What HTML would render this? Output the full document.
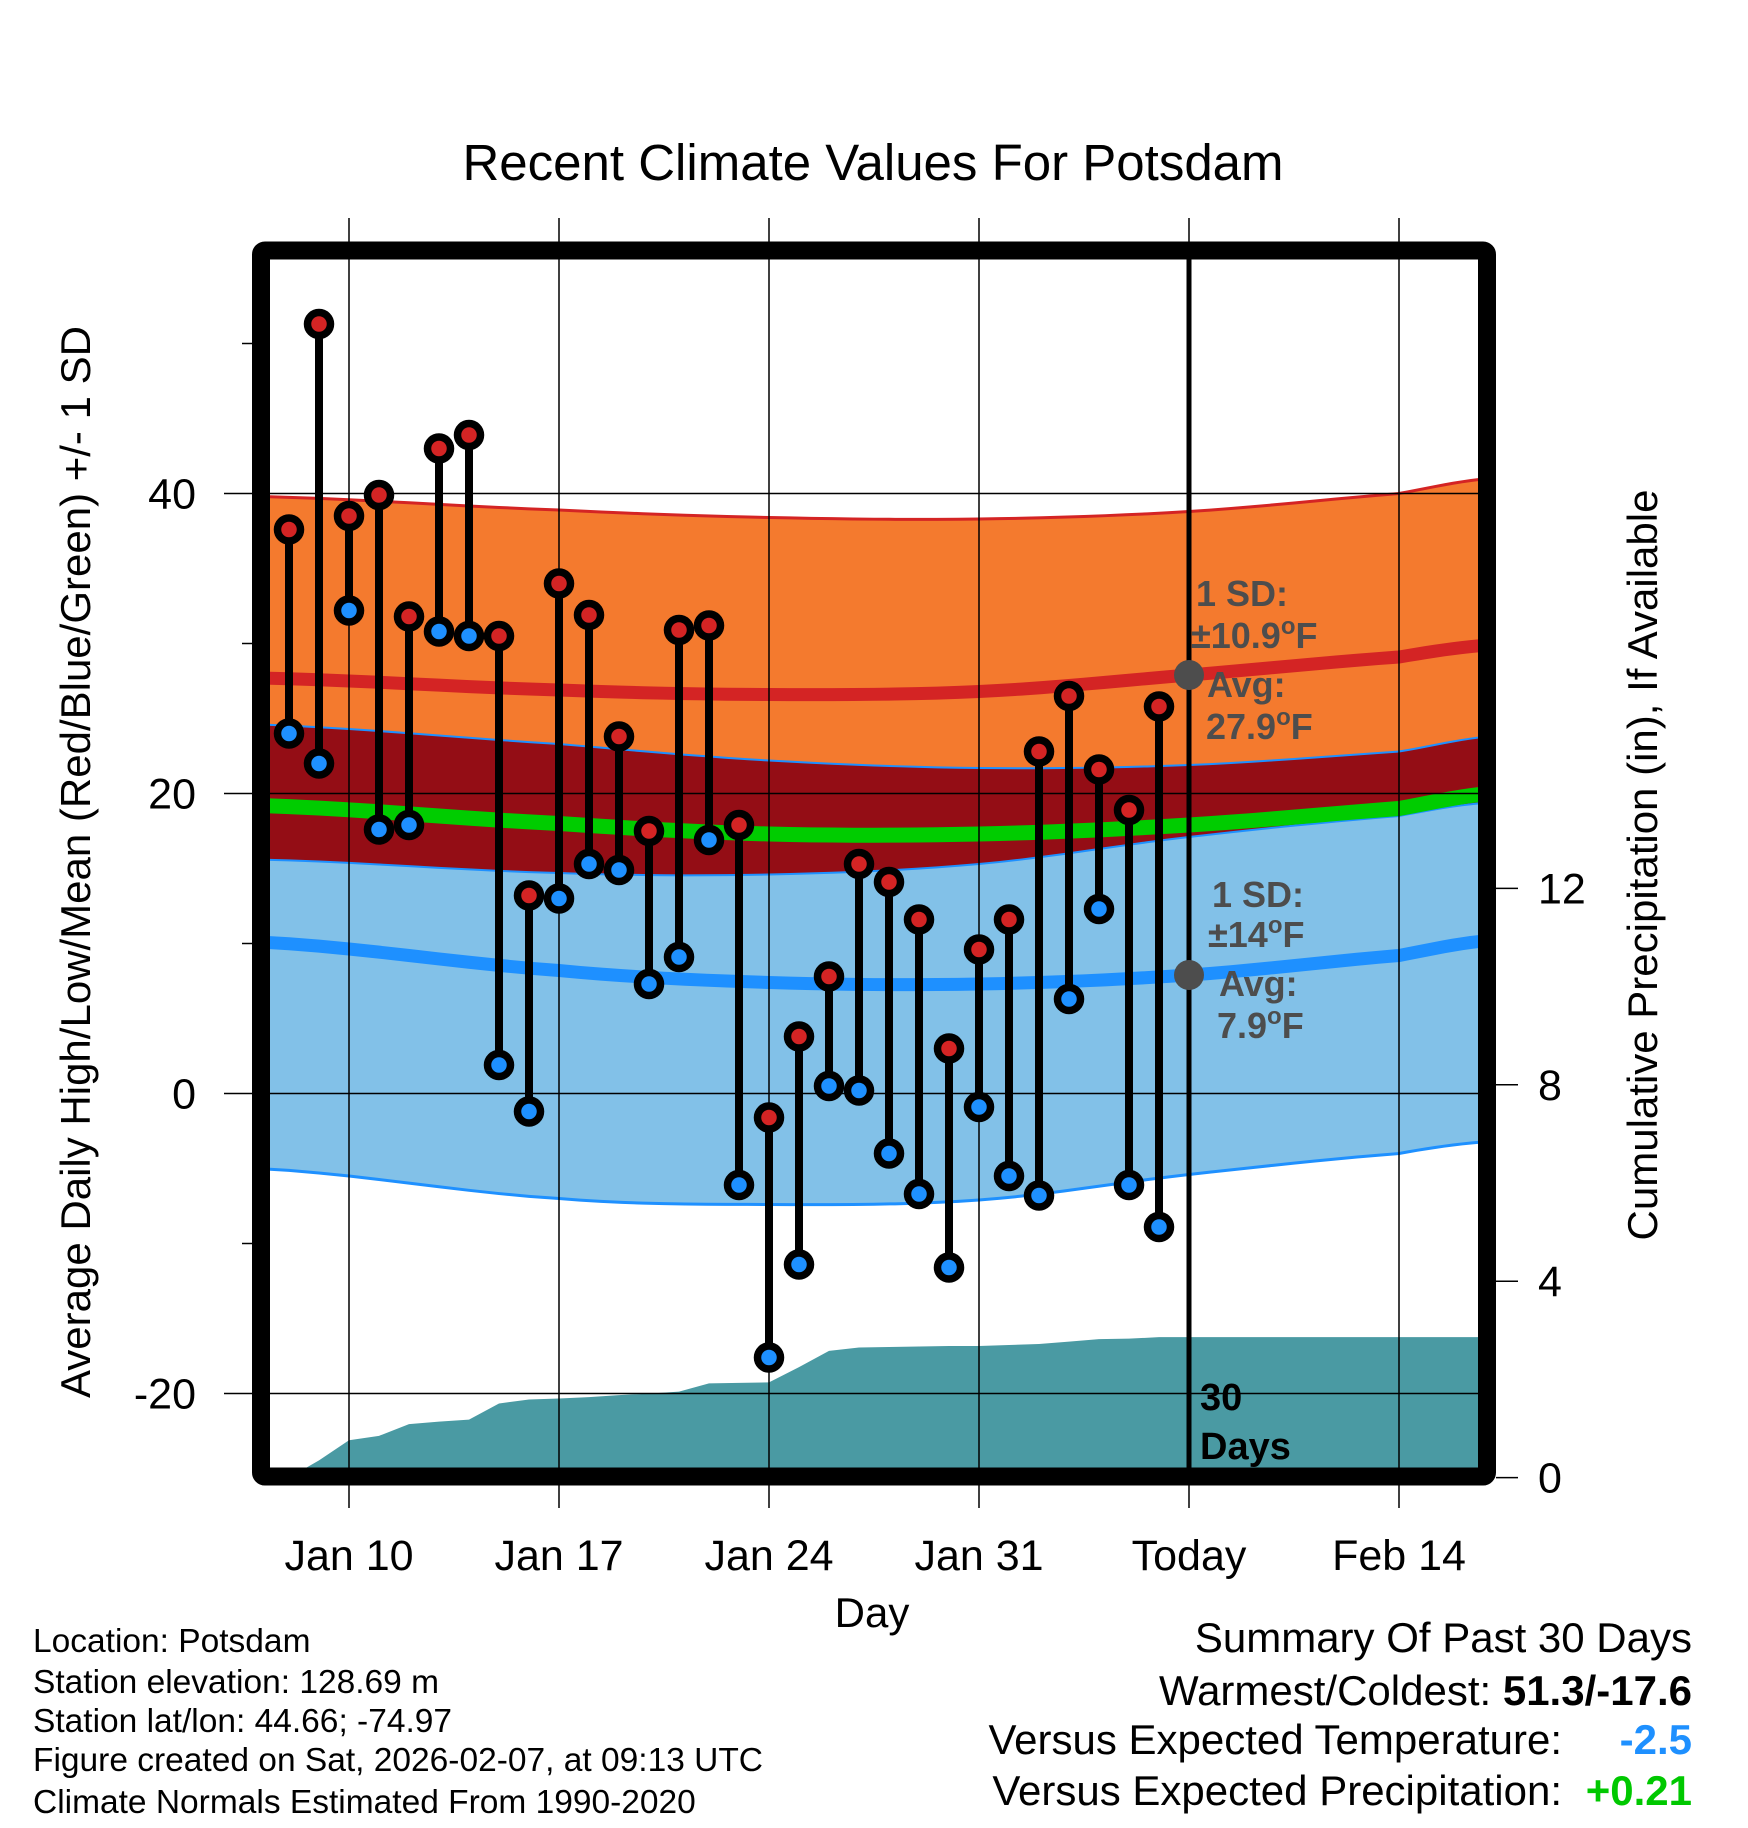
<!DOCTYPE html>
<html><head><meta charset="utf-8"><style>
html,body{margin:0;padding:0;background:#fff;}
svg{display:block;font-family:"Liberation Sans",sans-serif;}
</style></head><body>
<svg id="chart" width="1748" height="1828" viewBox="0 0 1748 1828" xmlns="http://www.w3.org/2000/svg">
<defs><clipPath id="plotclip"><rect x="270" y="259" width="1208" height="1209"/></clipPath></defs>
<text x="873" y="180" font-size="51" text-anchor="middle">Recent Climate Values For Potsdam</text>
<g id="plot" clip-path="url(#plotclip)"></g>
<g id="grid"></g>
<g id="marks" clip-path="url(#plotclip)"></g>
<g id="axes"></g>
<text x="872" y="1627" font-size="42" text-anchor="middle">Day</text>
<text transform="translate(90,862) rotate(-90)" font-size="42" text-anchor="middle">Average Daily High/Low/Mean (Red/Blue/Green) +/- 1 SD</text>
<text transform="translate(1657,865) rotate(-90)" font-size="42" text-anchor="middle">Cumulative Precipitation (in), If Available</text>
<g font-size="33.5">
<text x="33" y="1652">Location: Potsdam</text>
<text x="33" y="1693">Station elevation: 128.69 m</text>
<text x="33" y="1732">Station lat/lon: 44.66; -74.97</text>
<text x="33" y="1771">Figure created on Sat, 2026-02-07, at 09:13 UTC</text>
<text x="33" y="1813">Climate Normals Estimated From 1990-2020</text>
</g>
<g font-size="42" text-anchor="end">
<text x="1692" y="1652">Summary Of Past 30 Days</text>
<text x="1692" y="1705">Warmest/Coldest: <tspan font-weight="bold">51.3/-17.6</tspan></text>
<text x="1562" y="1754">Versus Expected Temperature:</text>
<text x="1692" y="1754" font-weight="bold" fill="#1e90ff">-2.5</text>
<text x="1562" y="1805">Versus Expected Precipitation:</text>
<text x="1692" y="1805" font-weight="bold" fill="#00c800">+0.21</text>
</g>
</svg>
<script>
// Days as offsets from Jan 10
const obsDays = [-2,-1,0,1,2,3,4,5,6,7,8,9,10,11,12,13,14,15,16,17,18,19,20,21,22,23,24,25,26,27];
const highs = [37.6,51.3,38.5,39.9,31.8,43.0,43.9,30.5,13.2,34.0,31.9,23.8,17.5,30.9,31.2,17.9,-1.6,3.8,7.8,15.3,14.1,11.6,3.0,9.6,11.6,22.8,26.5,21.6,18.9,25.8];
const lows = [24.0,22.0,32.2,17.6,17.9,30.8,30.5,1.9,-1.2,13.0,15.3,14.9,7.3,9.1,16.9,-6.1,-17.6,-11.4,0.5,0.2,-4.0,-6.7,-11.6,-0.9,-5.5,-6.8,6.3,12.3,-6.1,-8.9];
const precip = [0.0,0.35,0.76,0.85,1.09,1.14,1.18,1.51,1.59,1.61,1.64,1.68,1.71,1.75,1.92,1.93,1.94,2.25,2.58,2.65,2.66,2.67,2.68,2.68,2.70,2.72,2.77,2.82,2.83,2.86];
const normDays = [-3,7,14,21,28,35,38];
const hiUp = [39.8,38.9,38.4,38.3,38.8,40.0,41.0];
const hiAvg = [27.7,26.9,26.6,26.8,27.9,29.1,29.9];
const hiDn = [24.6,23.3,22.2,21.7,21.9,22.8,23.8];
const meanT = [19.2,18.0,17.3,17.3,17.9,19.0,20.0];
const loUp = [15.6,14.7,14.6,15.3,17.1,18.5,19.4];
const loAvg = [10.1,8.2,7.4,7.3,7.9,9.2,10.2];
const loDn = [-5.0,-7.0,-7.4,-7.1,-5.4,-4.0,-3.2];
const xTickDays = [0,7,14,21,28,35];
const xTickLabels = ["Jan 10","Jan 17","Jan 24","Jan 31","Today","Feb 14"];
const yTicks = [-20,0,20,40];
const yMinor = [-10,10,30,50];
const y2Ticks = [0,4,8,12];
const todayDay = 28;
const todayHiAvg = 27.9, todayLoAvg = 7.9;

const NS="http://www.w3.org/2000/svg";
const X = d => 349 + 30*d;
const Y = t => 1093.5 - 15*t;
const YP = p => 1477.6 - 49.1*p;
function mk(parent, tag, attrs){const e=document.createElementNS(NS,tag);for(const k in attrs)e.setAttribute(k,attrs[k]);parent.appendChild(e);return e;}
const plot=document.getElementById('plot'), grid=document.getElementById('grid'), marks=document.getElementById('marks'), axes=document.getElementById('axes');
// smooth interpolation (monotone-ish cosine) between normal points for drawing
function samp(arr){
  const out=[];
  for(let i=0;i<normDays.length-1;i++){
    const steps=10;
    for(let s=0;s<steps;s++){
      const f=s/steps;
      const p0=arr[Math.max(i-1,0)],p1=arr[i],p2=arr[i+1],p3=arr[Math.min(i+2,arr.length-1)];
      const v=0.5*((2*p1)+(-p0+p2)*f+(2*p0-5*p1+4*p2-p3)*f*f+(-p0+3*p1-3*p2+p3)*f*f*f);
      const d=normDays[i]+(normDays[i+1]-normDays[i])*f;
      out.push([X(d),Y(v)]);
    }
  }
  out.push([X(normDays[normDays.length-1]),Y(arr[arr.length-1])]);
  return out;
}
function pts(arr){return samp(arr).map(p=>p[0]+','+p[1]).join(' ');}
function band(up,dn,fill,name){
  const a=samp(up), b=samp(dn).reverse();
  const e=mk(plot,'polygon',{points:a.concat(b).map(p=>p[0]+','+p[1]).join(' '),fill:fill});
  
  
}
band(hiUp,hiDn,'#f47a2e','high-sd-band');
band(hiDn,loUp,'#940d15','overlap-band');
band(loUp,loDn,'#82c1e8','low-sd-band');
function line(arr,color,w,name){const e=mk(plot,'polyline',{points:pts(arr),fill:'none',stroke:color,'stroke-width':w});
  
  }
line(hiUp,'#d42424',3,'high-upper-line');
line(loUp,'#1e90ff',2,'low-upper-line');
line(hiDn,'#1e90ff',2,'high-lower-line');
line(loDn,'#1e90ff',3,'low-lower-line');
line(meanT,'#00cc00',15,'mean-line');
line(hiAvg,'#d42424',13,'high-avg-line');
line(loAvg,'#1e90ff',13,'low-avg-line');
// precipitation area
{
  const p=[X(obsDays[0])+','+1480];
  obsDays.forEach((d,i)=>p.push(X(d)+','+YP(precip[i])));
  p.push('1480,'+YP(precip[precip.length-1]));
  p.push('1480,1480');
  const e=mk(plot,'polygon',{points:p.join(' '),fill:'#4a9aa3'});
  
  
}
// grid
xTickDays.forEach((d,i)=>{
  const e=mk(grid,'line',{x1:X(d),x2:X(d),y1:218,y2:1508,stroke:'#000','stroke-width':1.5});
  
  
  const t=mk(axes,'text',{x:X(d),y:1570,'font-size':43,'text-anchor':'middle'});
  t.textContent=xTickLabels[i];
  
  
});
yTicks.forEach(v=>{
  const e=mk(grid,'line',{x1:224,x2:1478,y1:Y(v),y2:Y(v),stroke:'#000','stroke-width':1.5});
  
  
  const t=mk(axes,'text',{x:196,y:Y(v)+15,'font-size':43,'text-anchor':'end'});
  t.textContent=String(v);
  
  
});
yMinor.forEach(v=>{
  const e=mk(axes,'line',{x1:242,x2:252,y1:Y(v),y2:Y(v),stroke:'#000','stroke-width':1.5});
  
  
});
y2Ticks.forEach(v=>{
  const e=mk(axes,'line',{x1:1496,x2:1518,y1:YP(v),y2:YP(v),stroke:'#000','stroke-width':1.5});
  
  
  const t=mk(axes,'text',{x:1538,y:YP(v)+15,'font-size':43});
  t.textContent=String(v);
  
  
});
// today line
{
  const e=mk(marks,'line',{x1:X(todayDay),x2:X(todayDay),y1:259,y2:1470,stroke:'#000','stroke-width':5});
  
  
}
// observations
obsDays.forEach((d,i)=>{
  const s=mk(marks,'line',{x1:X(d),x2:X(d),y1:Y(highs[i]),y2:Y(lows[i]),stroke:'#000','stroke-width':8});
  
  
  [[lows[i],'#1e90ff','low-point'],[highs[i],'#d42424','high-point']].forEach(([v,c,n])=>{
    const o=mk(marks,'circle',{cx:X(d),cy:Y(v),r:11.5,fill:c,stroke:'#000','stroke-width':7.5});
    
    
  });
});
// today avg markers
[todayHiAvg,todayLoAvg].forEach(v=>{
  const o=mk(marks,'circle',{cx:X(todayDay),cy:Y(v),r:15,fill:'#4d4d4d'});
  
  
});
// annotations: [main, superscript-degree?, suffix, x, y]
const ann=[["1 SD:","","",1196,606],["±10.9","o","F",1191,648],["Avg:","","",1207,697],["27.9","o","F",1206,739],["1 SD:","","",1212,907],["±14","o","F",1208,947],["Avg:","","",1219,996],["7.9","o","F",1217,1038]];
ann.forEach(([s,sup,suf,x,y])=>{
  const t=mk(axes,'text',{x:x,y:y,'font-size':36,'font-weight':'bold',fill:'#4d4d4d'});
  t.textContent=s;
  if(sup){
    const a=mk(t,'tspan',{dy:-14,'font-size':24});a.textContent=sup;
    const b=mk(t,'tspan',{dy:14});b.textContent=suf;
  }
  
  
});
[["30",1200,1410],["Days",1200,1459]].forEach(([s,x,y])=>{
  const t=mk(axes,'text',{x:x,y:y,'font-size':38,'font-weight':'bold',fill:'#000'});
  t.textContent=s;
  
  
});
// frame
{
  const f=mk(axes,'rect',{x:261,y:250.5,width:1226,height:1226,fill:'none',stroke:'#000','stroke-width':18,rx:4});
  
  
}
</script>
</body></html>
